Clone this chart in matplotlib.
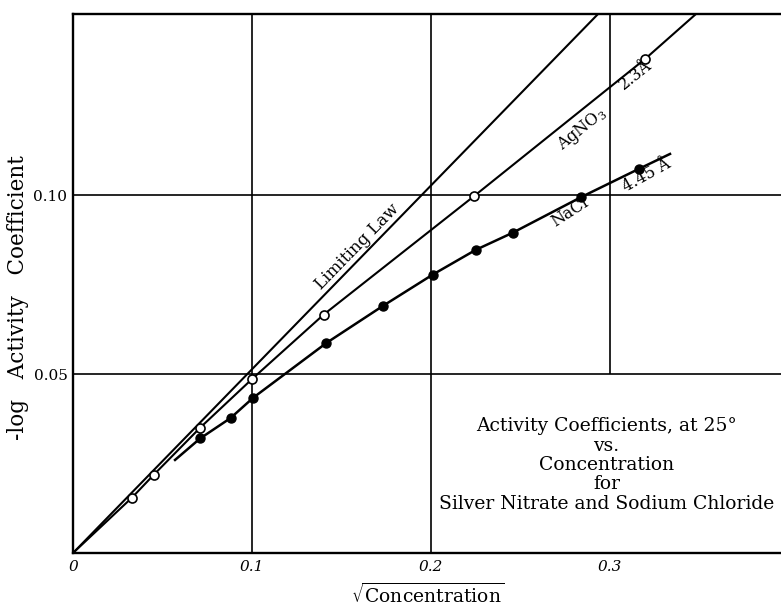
import numpy as np
import matplotlib
matplotlib.use('Agg')
import matplotlib.pyplot as plt

plt.rcParams['font.family'] = ['DejaVu Serif', 'DejaVu Sans']
plt.rcParams['mathtext.fontset'] = 'dejavuserif'

# limiting law (straight line)
law_x = [0.0, 0.2933]
law_y = [0.0, 0.1506]

# AgNO3 - open circles, a = 2.3 A
ag_x = [0.033, 0.045, 0.071, 0.100, 0.140, 0.224, 0.3195]
ag_y = [0.0155, 0.0218, 0.0350, 0.0486, 0.0666, 0.0997, 0.1380]
ag_line_x = [0.0] + ag_x + [0.348]
ag_line_y = [0.0] + ag_y + [0.1506]

# NaCl - filled circles, a = 4.45 A
na_x = [0.071, 0.088, 0.1007, 0.1416, 0.173, 0.201, 0.225, 0.2457, 0.2837, 0.316]
na_y = [0.0320, 0.0377, 0.0434, 0.0587, 0.0690, 0.0778, 0.0847, 0.0895, 0.0994, 0.1073]
na_line_x = [0.057] + na_x + [0.3335]
na_line_y = [0.0260] + na_y + [0.1115]

W, H = 781, 608
fig = plt.figure(figsize=(W / 100, H / 100), dpi=100)
ax = fig.add_axes([73 / W, 1 - 553 / H, 708 / W, 539 / H])
ax.set_xlim(0, 0.3955)
ax.set_ylim(0, 0.1506)

# grid, drawn by hand (the 0.3 line stops at 0.05)
for gx in [0.1, 0.2]:
    ax.axvline(gx, color='black', lw=1.2, zorder=1)
ax.vlines(0.3, 0.05, 0.1506, color='black', lw=1.2, zorder=1)
for gy in [0.05, 0.10]:
    ax.axhline(gy, color='black', lw=1.2, zorder=1)

ax.plot(law_x, law_y, color='black', lw=1.5, zorder=2)
ax.plot(ag_line_x, ag_line_y, color='black', lw=1.5, zorder=2)
ax.plot(na_line_x, na_line_y, color='black', lw=1.8, zorder=2)
ax.plot(ag_x, ag_y, 'o', ms=6.5, mfc='white', mec='black', mew=1.2, zorder=3)
ax.plot(na_x, na_y, 'o', ms=6.5, mfc='black', mec='black', zorder=3)

for s in ['left', 'bottom', 'top']:
    ax.spines[s].set_linewidth(1.7)
ax.spines['right'].set_visible(False)

ax.set_xticks([0, 0.1, 0.2, 0.3])
ax.set_xticklabels(['0', '0.1', '0.2', '0.3'], fontstyle='italic')
ax.set_yticks([0.05, 0.10])
ax.set_yticklabels(['0.05', '0.10'])
ax.tick_params(length=0, labelsize=11)
ax.tick_params(axis='x', pad=5)
ax.tick_params(axis='y', pad=4)

fig.canvas.draw()


def angle(x0, y0, x1, y1):
    p0 = ax.transData.transform((x0, y0))
    p1 = ax.transData.transform((x1, y1))
    return np.degrees(np.arctan2(p1[1] - p0[1], p1[0] - p0[0]))


rot_law = angle(law_x[0], law_y[0], law_x[1], law_y[1])
rot_ag = angle(0.224, 0.0997, 0.3195, 0.138)
ax.text(0.159, 0.0855, 'Limiting Law', rotation=rot_law, rotation_mode='anchor',
        ha='center', va='center', fontsize=12.2)
ax.text(0.2844, 0.1185, 'AgNO$_3$', rotation=rot_ag,
        rotation_mode='anchor', ha='center', va='center', fontsize=11.5)
ax.text(0.3145, 0.1335, '2.3Å', rotation=rot_ag,
        rotation_mode='anchor', ha='center', va='center', fontsize=11.5)
ax.text(0.2777, 0.0952, 'NaCl', rotation=33,
        rotation_mode='anchor', ha='center', va='center', fontsize=11.5)
ax.text(0.3207, 0.1055, '4.45 Å', rotation=29,
        rotation_mode='anchor', ha='center', va='center', fontsize=11.5)

ax.text(0.298, (553 - 465) / 3580,
        'Activity Coefficients, at 25°\nvs.\nConcentration\nfor\nSilver Nitrate and Sodium Chloride',
        ha='center', va='center', fontsize=13.5, linespacing=1.1, zorder=4)

fig.text(18 / W, 1 - 298 / H, '-log   Activity   Coefficient', rotation=90,
         ha='center', va='center', fontsize=15.5)
fig.text(428 / W, 1 / H, r'$\sqrt{\mathrm{Concentration}}$',
         ha='center', va='bottom', fontsize=13.5)

fig.savefig('out.png', dpi=100)
